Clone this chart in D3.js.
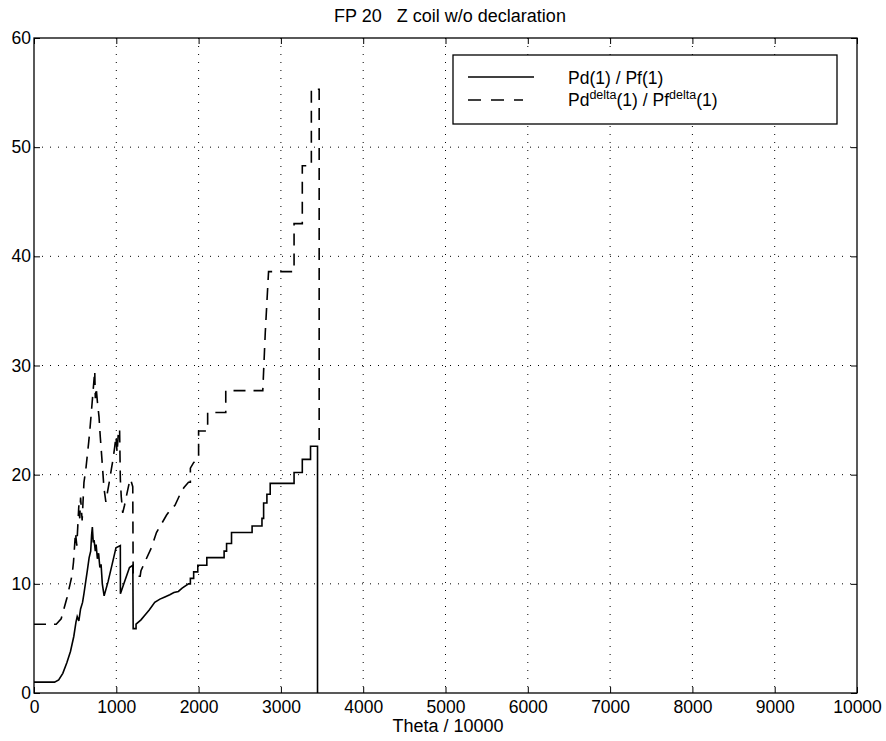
<!DOCTYPE html>
<html><head><meta charset="utf-8">
<script src="https://cdn.jsdelivr.net/npm/d3@7"></script>
<style>body{margin:0;background:#fff}svg{display:block}text{font-family:"Liberation Sans",Arial,sans-serif;fill:#000}</style>
</head><body><svg id="c" width="886" height="741"></svg>
<script>
const title = "FP 20   Z coil w/o declaration";
const xLabel = "Theta / 10000";
const xTicks = [0,1000,2000,3000,4000,5000,6000,7000,8000,9000,10000];
const yTicks = [0,10,20,30,40,50,60];
const legendSolid = "Pd(1) / Pf(1)";

// solid: Pd(1)/Pf(1)
const thetaSolid = [0,250,300,350,400,443,484,510,525,545,566,590,607,630,648,670,689,700,709,720,730,745,755,770,785,800,815,830,852,900,950,996,1049,1050,1100,1160,1201,1205,1240,1240,1300,1344,1400,1467,1530,1590,1650,1700,1754,1800,1877,1900,1900,1940,1940,1990,1990,2100,2100,2310,2310,2340,2340,2400,2400,2650,2650,2770,2770,2790,2790,2830,2830,2870,2870,3160,3160,3260,3260,3360,3360,3445,3445];
const ratioSolid = [1.0,1.0,1.2,1.8,2.8,3.8,5.2,6.5,7.0,6.6,7.7,8.3,9.1,10.3,11.2,12.4,13.0,14.5,15.2,13.8,14.0,13.0,13.6,12.3,12.8,11.5,11.8,10.0,8.9,10.2,11.8,13.3,13.5,9.1,10.2,11.5,11.7,5.9,5.9,6.3,6.7,7.1,7.6,8.3,8.6,8.8,9.0,9.2,9.3,9.6,10.0,10.0,10.5,10.5,11.1,11.1,11.7,11.7,12.4,12.4,13.0,13.0,13.7,13.7,14.7,14.7,15.3,15.3,16.0,16.0,17.4,17.4,18.2,18.2,19.2,19.2,20.2,20.2,21.4,21.4,22.6,22.6,0];

// dashed: Pd^delta(1)/Pf^delta(1)
const thetaDashed = [0,270,330,400,463,480,504,520,545,556,566,585,607,630,648,665,680,700,715,738,745,755,770,790,805,812,832,850,873,895,914,940,960,980,996,1010,1025,1040,1049,1060,1078,1100,1119,1150,1172,1200,1205,1290,1300,1365,1426,1488,1550,1611,1660,1713,1775,1820,1877,1900,1900,1939,2000,2000,2110,2110,2330,2330,2780,2810,2850,3160,3160,3260,3260,3370,3370,3465,3465];
const ratioDashed = [6.3,6.3,6.8,8.7,10.8,12.0,14.7,13.5,17.2,16.0,17.9,15.8,19.3,20.5,21.8,23.0,24.2,26.0,27.4,29.5,27.0,28.0,26.7,25.3,23.5,22.8,20.7,18.8,17.5,18.5,19.3,20.5,21.4,22.5,23.5,22.0,23.9,24.2,19.6,18.0,16.5,17.2,17.9,19.0,19.6,18.9,10.7,10.7,11.2,12.3,13.3,14.7,15.5,16.3,16.8,17.2,18.2,18.8,19.3,19.3,20.6,21.1,21.5,24.0,24.0,25.7,25.7,27.7,27.7,33.0,38.6,38.6,43.0,43.0,48.3,48.3,55.3,55.3,22.6];

const svg = d3.select("#c");
const L=34, R=857, T=38, B=693;
const x = d3.scaleLinear().domain([0,10000]).range([L,R]);
const y = d3.scaleLinear().domain([0,60]).range([B,T]);
const FONT = "'Liberation Sans',Arial,sans-serif";

// grid
const g = svg.append("g");
g.selectAll(".gx").data(xTicks.slice(1,-1)).join("line")
  .attr("x1",d=>x(d)).attr("x2",d=>x(d)).attr("y1",T).attr("y2",B)
  .attr("stroke","#000").attr("stroke-width",1).attr("stroke-dasharray","1,7");
g.selectAll(".gy").data(yTicks.slice(1,-1)).join("line")
  .attr("y1",d=>y(d)).attr("y2",d=>y(d)).attr("x1",L).attr("x2",R)
  .attr("stroke","#000").attr("stroke-width",1).attr("stroke-dasharray","1,7");

// axes
const axg = svg.append("g").attr("transform",`translate(0,${B})`)
  .call(d3.axisBottom(x).tickValues(xTicks).tickSize(-6).tickPadding(8).tickFormat(d3.format("d")));
const axt = svg.append("g").attr("transform",`translate(0,${T})`)
  .call(d3.axisTop(x).tickValues(xTicks).tickSize(-6).tickFormat(""));
const ayg = svg.append("g").attr("transform",`translate(${L},0)`)
  .call(d3.axisLeft(y).tickValues(yTicks).tickSize(-6).tickPadding(3));
const ayr = svg.append("g").attr("transform",`translate(${R},0)`)
  .call(d3.axisRight(y).tickValues(yTicks).tickSize(-6).tickFormat(""));
[axg,axt,ayg,ayr].forEach(a=>{a.select(".domain").remove();a.selectAll("line").attr("stroke","#000");a.selectAll("text").style("font-size","17.5px").style("font-family",FONT);});
svg.append("rect").attr("x",L).attr("y",T).attr("width",R-L).attr("height",B-T).attr("fill","none").attr("stroke","#000").attr("stroke-width",1.3);

// lines
const line = d3.line().x(d=>x(d[0])).y(d=>y(d[1]));
svg.append("path").datum(thetaSolid.map((t,i)=>[t,ratioSolid[i]]))
  .attr("d",line).attr("fill","none").attr("stroke","#000").attr("stroke-width",1.6);
svg.append("path").datum(thetaDashed.map((t,i)=>[t,ratioDashed[i]]))
  .attr("d",line).attr("fill","none").attr("stroke","#000").attr("stroke-width",1.6).attr("stroke-dasharray","12,8");

// title + labels
svg.append("text").attr("x",450).attr("y",22).attr("text-anchor","middle").attr("xml:space","preserve").style("white-space","pre").style("font-size","18px").text(title);
svg.append("text").attr("x",448).attr("y",732).attr("text-anchor","middle").style("font-size","18px").text(xLabel);

// legend
const lg = svg.append("g");
lg.append("rect").attr("x",453).attr("y",55).attr("width",384).attr("height",69).attr("fill","#fff").attr("stroke","#000").attr("stroke-width",1.3);
lg.append("line").attr("x1",468).attr("x2",534).attr("y1",77).attr("y2",77).attr("stroke","#000").attr("stroke-width",1.6);
lg.append("line").attr("x1",468).attr("x2",523).attr("y1",100).attr("y2",100).attr("stroke","#000").attr("stroke-width",1.6).attr("stroke-dasharray","13,10");
lg.append("text").attr("x",568).attr("y",84).style("font-size","17.5px").text(legendSolid);
const t2 = lg.append("text").attr("x",568).attr("y",106).style("font-size","17.5px");
t2.append("tspan").text("Pd");
t2.append("tspan").attr("dy",-7).style("font-size","12.5px").text("delta");
t2.append("tspan").attr("dy",7).text("(1) / Pf");
t2.append("tspan").attr("dy",-7).style("font-size","12.5px").text("delta");
t2.append("tspan").attr("dy",7).text("(1)");
</script></body></html>
